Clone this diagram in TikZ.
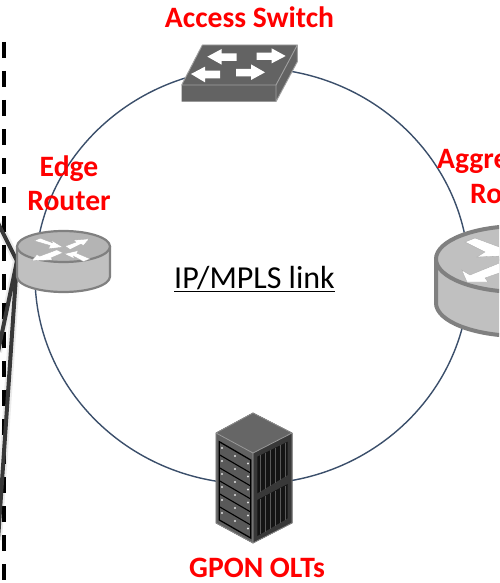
\documentclass[tikz,border=0pt]{standalone}
\usepackage{fontspec}
\setmainfont{Carlito}
\usetikzlibrary{shapes.geometric}
\definecolor{ringblue}{HTML}{3B4F6B}
\definecolor{swface}{HTML}{636363}
\definecolor{swedge}{HTML}{A0A0A0}
\definecolor{rtedge}{HTML}{808080}
\definecolor{rttop}{HTML}{B4B4B4}
\definecolor{rtbody}{HTML}{C0C0C0}
\definecolor{wiregray}{HTML}{383838}
\tikzset{
  x=1pt,y=-1pt,
  redlabel/.style={text=red,font=\bfseries\fontsize{29.6}{34}\selectfont,align=center,inner sep=0pt},
  ringline/.style={draw=ringblue,line width=1.4pt},
  wire/.style={draw=wiregray,line width=4pt},
  wireglow/.style={draw=black,opacity=.08,line width=8pt},
  fencedash/.style={draw=black,line width=4.2pt,dash pattern=on 16pt off 13pt},
  rtshape/.style={draw=rtedge,line width=2.2pt,line join=round},
  rtarrow/.style={fill=white,draw=rtedge!70,line width=.3pt,line join=miter},
  swarrow/.style={fill=white,draw=none},
  rib/.style={draw=#1,line width=.9pt},
}
\newcommand{\routerarrows}{%
  \path[rtarrow] (-88,-26) -- (-70,-34) -- (-33,-20) -- (-37,-28) -- (-2,-7) -- (-45,-2) -- (-40,-12) -- cycle;
  \path[rtarrow] (5,-10) -- (37,-22) -- (30,-28) -- (77,-32) -- (60,-12) -- (52,-16) -- (20,0) -- cycle;
  \path[rtarrow] (-2,10) -- (-37,25) -- (-32,31) -- (-95,34) -- (-80,15) -- (-71,20) -- (-20,1) -- cycle;
  \path[rtarrow] (80,28) -- (60,36) -- (30,20) -- (33,28) -- (2,13) -- (45,3) -- (40,11) -- cycle;
}
\begin{document}
\begin{tikzpicture}
\useasboundingbox (0,0) rectangle (499,583);
\clip (0,0) rectangle (499,583);
\fill[white] (0,0) rectangle (499,583);

% named points
\coordinate (fenceTop) at (3.8,42);
\coordinate (fenceEnd) at (3.8,583);
\coordinate (wireA) at (-2,223);
\coordinate (wireB) at (-2,352);
\coordinate (wireC) at (-2,540);
\coordinate (edgeJoin) at (17,261);

% IP/MPLS ring
\node[ellipse,ringline,minimum width=434pt,minimum height=416pt,inner sep=0pt] (ring) at (252,276) {};

% fence
\draw[fencedash] (fenceTop) -- (fenceEnd);

% wires
\draw[wireglow] (wireA) -- (edgeJoin) -- (wireB) (edgeJoin) -- (wireC);
\draw[wire,line join=miter] (wireA) -- (edgeJoin) -- (wireB);
\draw[wire] (edgeJoin) -- (wireC);

% Access switch
\begin{scope}[shift={(170,30)},xscale=1/3,yscale=1/3]
  \path[fill=swface] (97,45) -- (382,45) -- (382,95) -- (318,215) -- (35,215) -- (35,165) -- cycle;
  \draw[swedge,line width=.9pt,line join=round] (97,45) -- (382,45) -- (318,165) -- (35,165) -- cycle;
  \draw[swedge,line width=.9pt,line join=round] (318,165) -- (318,215) (382,45) -- (382,95) -- (318,215);
  \path[swarrow] (112,80) -- (155,57) -- (155,70) -- (200,70) -- (200,93) -- (155,93) -- (155,104) -- cycle;
  \path[swarrow] (260,68) -- (305,68) -- (305,55) -- (347,78) -- (305,100) -- (305,90) -- (260,90) -- cycle;
  \path[swarrow] (63,132) -- (105,110) -- (105,122) -- (150,122) -- (150,145) -- (105,145) -- (105,157) -- cycle;
  \path[swarrow] (198,117) -- (243,117) -- (243,103) -- (285,127) -- (243,150) -- (243,139) -- (198,139) -- cycle;
\end{scope}

% Edge router
\begin{scope}[shift={(63.5,246.5)}]
  \path[rtshape,fill=rtbody] (-46.5,0) -- (-46.5,30) arc[start angle=180,end angle=360,x radius=46.5,y radius=-15.5] -- (46.5,0) -- cycle;
  \path[rtshape,fill=rttop] (0,0) ellipse[x radius=46.5,y radius=15.5];
  \begin{scope}[shift={(0,3)},xscale=1/3,yscale=1/3]
    \routerarrows
  \end{scope}
\end{scope}

% Aggregation router
\begin{scope}[shift={(520,259)}]
  \path[rtshape,line width=4pt,fill=rtbody] (-84,0) -- (-84,44) arc[start angle=180,end angle=360,x radius=84,y radius=-33] -- (84,0) -- cycle;
  \path[rtshape,line width=4pt,fill=rtbody] (0,0) ellipse[x radius=84,y radius=33];
\end{scope}
\path[rtarrow] (465,242) -- (475,238) -- (502,248) -- (502,256) -- (477,257) -- (485,252) -- cycle;
\path[rtarrow] (461.7,270) -- (470,275) -- (502,262) -- (502,272) -- (485,278) -- (488,282) -- (467,282) -- cycle;

% GPON OLT rack
\path[fill=black!75,draw=black!85,line width=.5pt] (253,413) -- (292,433) -- (292,523) -- (253,543) -- (216,523) -- (216,433) -- cycle;
\path[fill=black!60] (253,413) -- (292,433) -- (253,453) -- (216,433) -- cycle;
\path[fill=black!78] (253,453) -- (292,433) -- (292,523) -- (253,543) -- cycle;
\path[fill=black!62] (216,433) -- (253,453) -- (253,543) -- (216,523) -- cycle;
\draw[black!40,line width=.8pt,line join=round] (216,433) -- (253,453) -- (292,433) (253,453) -- (253,543);
\draw[black!45,line width=.8pt,line join=round] (253,413) -- (292,433) -- (292,523) -- (253,543) -- (216,523) -- (216,433) -- cycle;
% front panel
\path[fill=black!65,draw=black,line width=1.3pt] (219.3,441.7) -- (250.7,460) -- (250.7,538) -- (219.3,520) -- cycle;
\foreach \k in {1,...,5}{
  \draw[black,line width=1.1pt] (219.3,441.7+13*\k) -- (250.7,460+13*\k);
}
\foreach \k in {0,...,5}{
  \fill[black!12] (222,448+13*\k) circle[radius=1.1];
  \fill[black!12] (235,456+13*\k) circle[radius=1.1];
  \fill[black!12] (248,463.5+13*\k) circle[radius=1.1];
}
% side panels
\path[fill=black!92] (257.3,456.7) -- (287.7,441.7) -- (287.7,475) -- (257.3,493.3) -- cycle;
\path[fill=black!92] (257.3,500) -- (287.7,484) -- (287.7,518.3) -- (257.3,536) -- cycle;
\foreach \k in {0,...,5}{
  \draw[rib=black!65] (260+5*\k,455.3-2.5*\k) -- (260+5*\k,491.7-3*\k);
  \draw[rib=black!65] (260+5*\k,498.6-2.6*\k) -- (260+5*\k,534.4-2.9*\k);
}

% Labels
\node[redlabel,anchor=base] (accessLabel) at (249.5,28) {Access Switch};
\node[redlabel,anchor=base] (edgeLabel) at (69,176) {Edge};
\node[redlabel,anchor=base] (routerLabel) at (69,210) {Router};
\node[redlabel,anchor=base west] (aggLabel) at (437,168) {Aggre};
\node[redlabel,anchor=base west] (aggRouterLabel) at (470,203) {Ro};
\node[redlabel,anchor=base] (gponLabel) at (257,577) {GPON OLTs};
\node[inner sep=0pt,anchor=base,font=\fontsize{32}{36}\selectfont] (linkLabel) at (254.5,288) {\underline{IP/MPLS link}};
\end{tikzpicture}
\end{document}
